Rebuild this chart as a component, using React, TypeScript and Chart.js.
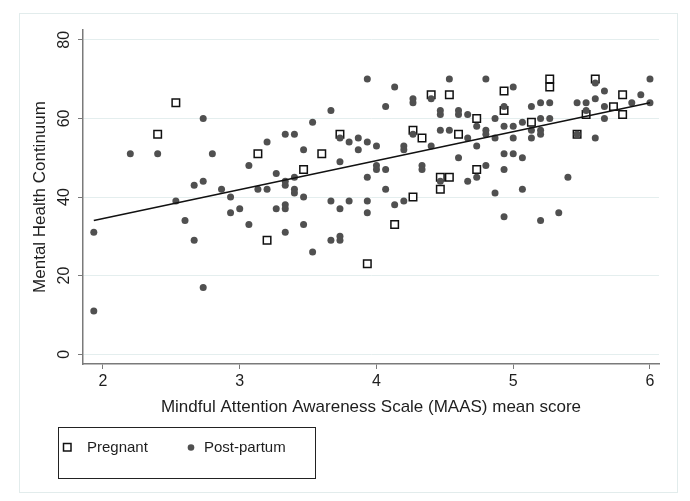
import React, { useEffect, useRef } from 'react';
import { Chart, registerables } from 'chart.js';

Chart.register(...registerables);

// ---------- data ----------
const xTickValues = [2, 3, 4, 5, 6];
const yTickValues = [0, 20, 40, 60, 80];

const xTitle = 'Mindful Attention Awareness Scale (MAAS) mean score';
const yTitle = 'Mental Health Continuum';
const legendLabels = ['Pregnant', 'Post-partum'];

const pregnantScore = [
  2.4, 2.533, 3.133, 3.2, 3.467, 3.6, 3.733, 3.933, 4.133, 4.267, 4.267,
  4.333, 4.4, 4.467, 4.467, 4.533, 4.533, 4.6, 4.733, 4.733, 4.933, 4.933,
  5.133, 5.267, 5.267, 5.467, 5.533, 5.6, 5.733, 5.8, 5.8,
];
const pregnantMhc = [
  56, 64, 51, 29, 47, 51, 56, 23, 33, 57, 40,
  55, 66, 45, 42, 66, 45, 56, 60, 47, 67, 62,
  59, 70, 68, 56, 61, 70, 63, 66, 61,
];

const postScore = [
  1.933, 1.933, 2.2, 2.4, 2.533, 2.6, 2.667, 2.667, 2.733, 2.733, 2.733, 2.8, 2.867, 2.933, 2.933, 3.0, 3.067, 3.067, 3.133, 3.2, 3.2, 3.267, 3.267,
  3.333, 3.333, 3.333, 3.333, 3.333, 3.333, 3.4, 3.4, 3.4, 3.4, 3.467, 3.467, 3.467, 3.533, 3.533,
  3.667, 3.667, 3.667, 3.733, 3.733, 3.733, 3.733, 3.733, 3.8, 3.8, 3.867, 3.867,
  3.933, 3.933, 3.933, 3.933, 3.933, 4.0, 4.0, 4.0, 4.067, 4.067, 4.067, 4.133, 4.133, 4.2, 4.2, 4.2, 4.267, 4.267, 4.267,
  4.333, 4.333, 4.4, 4.4, 4.467, 4.467, 4.467, 4.467, 4.533, 4.533, 4.6, 4.6, 4.6, 4.667, 4.667, 4.667, 4.733, 4.733, 4.733,
  4.8, 4.8, 4.8, 4.8, 4.867, 4.867, 4.867, 4.933, 4.933, 4.933, 4.933, 4.933, 5.0, 5.0, 5.0, 5.0, 5.067, 5.067, 5.067, 5.133, 5.133, 5.133,
  5.2, 5.2, 5.2, 5.2, 5.2, 5.267, 5.267, 5.333, 5.4, 5.467, 5.467, 5.533, 5.533, 5.6, 5.6, 5.6, 5.667, 5.667, 5.667, 5.867, 5.933, 6.0, 6.0,
];
const postMhc = [
  31, 11, 51, 51, 39, 34, 43, 29, 60, 44, 17, 51, 42, 40, 36, 37, 48, 33, 42, 54, 42, 46, 37,
  56, 44, 43, 38, 37, 31, 56, 45, 42, 41, 52, 40, 33, 59, 26,
  62, 39, 29, 55, 49, 37, 30, 29, 54, 39, 55, 52,
  70, 54, 45, 39, 36, 53, 48, 47, 63, 47, 42, 68, 38, 53, 52, 39, 65, 64, 56,
  48, 47, 65, 53, 62, 61, 57, 44, 70, 57, 62, 61, 50, 61, 55, 44, 58, 53, 45,
  70, 57, 56, 48, 60, 55, 41, 63, 58, 51, 47, 35, 68, 58, 55, 51, 59, 50, 42, 63, 57, 55,
  64, 60, 57, 56, 34, 64, 60, 36, 45, 64, 56, 64, 62, 69, 65, 55, 67, 63, 60, 64, 66, 70, 64,
];

// fitted regression line end points
const fitScore = [1.933, 6.0];
const fitMhc = [34.0, 64.0];

// ---------- styles ----------
const FONT = '"Liberation Sans", Arial, sans-serif';
const AXIS_GRAY = '#7a7a7a';
const GRID = '#e4eeee';
const TEXT = '#1e1e1e';
const DOT = '#505050';

const decorPlugin = {
  id: 'decor',
  beforeDraw(chart: any) {
    const c = chart.ctx;
    c.save();
    c.fillStyle = '#ffffff';
    c.fillRect(0, 0, chart.width, chart.height);
    c.strokeStyle = '#e2ecec';
    c.lineWidth = 1;
    c.strokeRect(19.5, 13.5, 658, 479);
    c.restore();
  },
  afterDraw(chart: any) {
    const c = chart.ctx;
    c.save();
    // legend box
    c.strokeStyle = '#222';
    c.lineWidth = 1;
    c.strokeRect(58.5, 427.5, 257, 51);
    const cy = 447;
    // pregnant marker
    c.strokeStyle = '#111';
    c.lineWidth = 1.5;
    c.fillStyle = '#fff';
    c.fillRect(63.5, cy - 3.5, 7.5, 7.5);
    c.strokeRect(63.5, cy - 3.5, 7.5, 7.5);
    // post-partum marker
    c.fillStyle = DOT;
    c.beginPath();
    c.arc(191, cy + 0.5, 3.3, 0, Math.PI * 2);
    c.fill();
    c.fillStyle = TEXT;
    c.font = `15px ${FONT}`;
    c.textBaseline = 'middle';
    c.textAlign = 'left';
    c.fillText(legendLabels[0], 87, cy + 1);
    c.fillText(legendLabels[1], 204, cy + 1);
    c.restore();
  },
};

export default function App() {
  const ref = useRef<HTMLCanvasElement>(null);

  useEffect(() => {
    const canvas = ref.current;
    if (!canvas) return;
    const chart = new Chart(canvas, {
      type: 'scatter',
      data: {
        datasets: [
          {
            type: 'line',
            label: 'Fitted values',
            data: fitScore.map((x, i) => ({ x, y: fitMhc[i] })),
            borderColor: '#111',
            borderWidth: 1.5,
            pointRadius: 0,
            fill: false,
            showLine: true,
          } as any,
          {
            label: legendLabels[1],
            data: postScore.map((x, i) => ({ x, y: postMhc[i] })),
            pointStyle: 'circle',
            pointRadius: 3.5,
            backgroundColor: DOT,
            borderWidth: 0,
          },
          {
            label: legendLabels[0],
            data: pregnantScore.map((x, i) => ({ x, y: pregnantMhc[i] })),
            pointStyle: 'rect',
            pointRadius: 5.3,
            backgroundColor: '#ffffff',
            borderColor: '#111',
            borderWidth: 1.5,
          },
        ],
      },
      options: {
        responsive: true,
        maintainAspectRatio: false,
        animation: false,
        layout: { padding: { left: 0, top: 30, right: 31, bottom: 81 } },
        plugins: {
          legend: { display: false },
          tooltip: { enabled: false },
        },
        scales: {
          x: {
            type: 'linear',
            min: 1.854,
            max: 6.066,
            afterBuildTicks: (s: any) => {
              s.ticks = xTickValues.map((v) => ({ value: v }));
            },
            afterFit: (s: any) => {
              s.height = 56;
            },
            grid: {
              drawOnChartArea: false,
              drawTicks: true,
              tickLength: 5,
              color: AXIS_GRAY,
              tickColor: AXIS_GRAY,
            },
            border: { display: true, color: AXIS_GRAY, width: 1.5 },
            ticks: {
              padding: 3,
              color: TEXT,
              maxRotation: 0,
              font: { family: FONT, size: 16 },
            },
            title: {
              display: true,
              text: xTitle,
              color: TEXT,
              font: { family: FONT, size: 17 },
              padding: { top: 0, bottom: 2 },
            },
          },
          y: {
            type: 'linear',
            min: -2.5,
            max: 82.5,
            afterBuildTicks: (s: any) => {
              s.ticks = yTickValues.map((v) => ({ value: v }));
            },
            afterFit: (s: any) => {
              s.width = 83;
            },
            grid: {
              color: GRID,
              lineWidth: 1,
              drawTicks: true,
              tickLength: 5,
              tickColor: AXIS_GRAY,
            },
            border: { display: true, color: AXIS_GRAY, width: 1.5 },
            ticks: {
              minRotation: 90,
              maxRotation: 90,
              crossAlign: 'center',
              padding: 5,
              color: TEXT,
              font: { family: FONT, size: 16 },
            },
            title: {
              display: true,
              text: yTitle,
              color: TEXT,
              font: { family: FONT, size: 17 },
              padding: { top: 30, bottom: 0 },
            },
          },
        },
      },
      plugins: [decorPlugin],
    });
    return () => chart.destroy();
  }, []);

  return (
    <div style={{ position: 'fixed', left: 0, top: 0, width: 690, height: 501, background: '#fff' }}>
      <canvas ref={ref} />
    </div>
  );
}
